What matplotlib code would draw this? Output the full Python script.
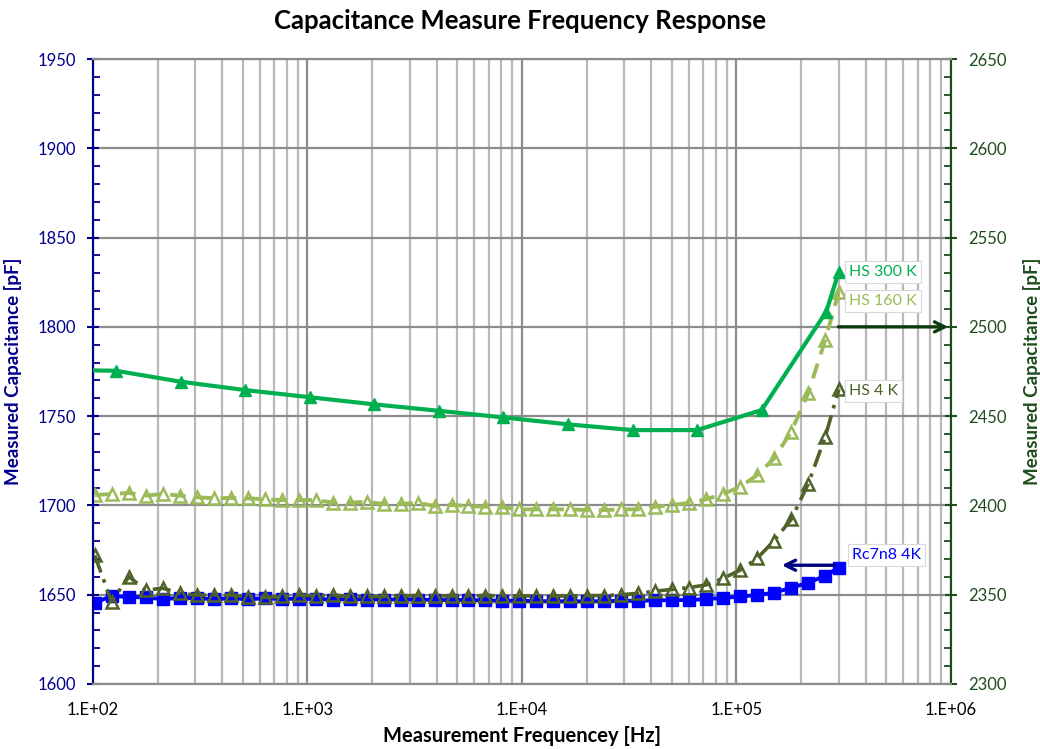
import numpy as np
import matplotlib
matplotlib.use('Agg')
import matplotlib.pyplot as plt
from matplotlib.ticker import FixedLocator, FixedFormatter, MultipleLocator

plt.rcParams['font.family'] = ['Lato', 'DejaVu Sans']

# sweep frequencies [Hz] shared by Rc7n8 4K, HS 160 K and HS 4 K
freq = [102, 122, 147, 176, 212, 254, 305, 366, 439, 526, 632, 758, 910,
        1091, 1310, 1572, 1886, 2263, 2716, 3259, 3911, 4693, 5631, 6758,
        8109, 9731, 11677, 14012, 16815, 20178, 24213, 29056, 34867, 41840,
        50208, 60250, 72300, 86760, 104112, 124934, 149921, 179905, 215886,
        259063, 300000]

# Rc7n8 4K (left axis)
rc7n8_4k = [1645.4, 1649.3, 1648.7, 1648.5, 1647.5, 1648.3, 1648.0, 1647.5,
            1648.0, 1647.5, 1648.0, 1647.6, 1647.8, 1647.5, 1647.3, 1647.5,
            1647.3, 1647.3, 1647.3, 1647.3, 1647.0, 1647.0, 1647.0, 1646.8,
            1646.6, 1646.6, 1646.4, 1646.3, 1646.3, 1646.3, 1646.4, 1646.5,
            1646.6, 1646.8, 1647.0, 1647.0, 1647.6, 1648.2, 1649.0, 1649.8,
            1651.1, 1653.9, 1656.7, 1660.6, 1665.2]

# HS 160 K (right axis)
hs_160k = [2405.8, 2406.4, 2407.0, 2405.5, 2406.4, 2405.5, 2404.6, 2404.0,
           2404.2, 2404.0, 2403.4, 2403.0, 2403.0, 2403.0, 2401.6, 2401.6,
           2402.0, 2400.8, 2400.8, 2401.5, 2399.7, 2400.2, 2399.7, 2399.3,
           2399.0, 2397.8, 2397.8, 2397.8, 2397.8, 2397.4, 2397.4, 2397.8,
           2397.8, 2399.3, 2400.2, 2401.5, 2403.5, 2406.4, 2410.5, 2417.0,
           2426.4, 2441.3, 2462.8, 2492.6, 2519.7]

# HS 4 K (right axis)
hs_4k = [2372.0, 2346.1, 2360.1, 2352.6, 2353.6, 2350.8, 2349.8, 2349.8,
         2349.8, 2348.9, 2348.5, 2349.0, 2349.8, 2349.3, 2349.8, 2349.0,
         2349.0, 2349.0, 2349.3, 2349.5, 2349.5, 2349.3, 2349.3, 2349.5,
         2349.3, 2349.3, 2349.3, 2349.3, 2349.3, 2349.5, 2349.5, 2350.0,
         2350.8, 2352.0, 2353.0, 2354.0, 2355.5, 2359.2, 2363.8, 2370.4,
         2380.3, 2392.2, 2412.0, 2438.3, 2465.0]

# HS 300 K (right axis), coarser sweep
freq_300k = [64, 128, 256, 512, 1024, 2048, 4096, 8192, 16384, 32768, 65536,
             131072, 262144, 300000]
hs_300k = [2476.0, 2475.4, 2469.3, 2464.6, 2460.6, 2456.6, 2453.0, 2449.3,
           2445.4, 2442.2, 2442.2, 2453.4, 2508.5, 2530.9]

x_ticks = [1e2, 1e3, 1e4, 1e5, 1e6]
x_labels = ['1.E+02', '1.E+03', '1.E+04', '1.E+05', '1.E+06']

NAVY = '#00008B'
DKGREEN = '#1E4D1E'
C_BLUE = '#0000FF'
C_300 = '#00B050'
C_160 = '#9BBB59'
C_4 = '#4F6228'

fig = plt.figure(figsize=(10.4, 7.49), dpi=100)
ax = fig.add_axes([0.0894, 0.0868, 0.825, 0.8344])
ax2 = ax.twinx()

# left axis: Rc7n8
ax.plot(freq, rc7n8_4k, color=C_BLUE, lw=2.8, marker='s', ms=8, zorder=3)
ax.set_xscale('log')
ax.set_xlim(1e2, 1e6)
ax.set_ylim(1600, 1950)
ax.yaxis.set_major_locator(MultipleLocator(50))
ax.yaxis.set_minor_locator(MultipleLocator(10))
ax.xaxis.set_major_locator(FixedLocator(x_ticks))
ax.xaxis.set_major_formatter(FixedFormatter(x_labels))
ax.grid(True, which='major', axis='both', color='#8C8C8C', lw=1.6)
ax.grid(True, which='minor', axis='x', color='#B8B8B8', lw=1.6)
ax.set_axisbelow(True)

# right axis: HS series
ax2.plot(freq_300k, hs_300k, color=C_300, lw=3.0, marker='^', ms=8, zorder=3)
ax2.plot(freq, hs_160k, color=C_160, lw=2.8, ls=(0, (4, 2.5)), marker='^',
         ms=9, mfc='none', mew=1.8)
ax2.plot(freq, hs_4k, color=C_4, lw=2.6, ls=(0, (5, 2, 1, 2)), marker='^',
         ms=9, mfc='none', mew=1.8)
ax2.set_ylim(2300, 2650)
ax2.yaxis.set_major_locator(MultipleLocator(50))
ax2.yaxis.set_minor_locator(MultipleLocator(10))

# axis styling
for a in (ax, ax2):
    a.spines['top'].set_color('#8C8C8C')
    a.spines['bottom'].set_color('#8C8C8C')
    a.spines['left'].set_color(NAVY)
    a.spines['right'].set_color(DKGREEN)
    for s in a.spines.values():
        s.set_linewidth(1.5)

ax.tick_params(axis='x', which='both', length=0, labelsize=12, pad=13,
               labelcolor='black')
ax.tick_params(axis='y', which='major', direction='inout', length=9, width=1.5,
               color=NAVY, labelcolor=NAVY, labelsize=12, pad=8)
ax.tick_params(axis='y', which='minor', direction='in', length=5, width=1.3,
               color=NAVY)
ax2.tick_params(axis='y', which='major', direction='inout', length=9, width=1.5,
                color=DKGREEN, labelcolor=DKGREEN, labelsize=12, pad=8)
ax2.tick_params(axis='y', which='minor', direction='in', length=5, width=1.3,
                color=DKGREEN)

ax.set_xlabel('Measurement Frequencey [Hz]', fontsize=14.5, fontweight='bold',
              labelpad=6)
ax.set_ylabel('Measured Capacitance [pF]', fontsize=13.5, fontweight='bold',
              color=NAVY)
ax.yaxis.set_label_coords(-0.083, 0.5)
ax2.set_ylabel('Measured Capacitance [pF]', fontsize=13.5, fontweight='bold',
               color=DKGREEN)
ax2.yaxis.set_label_coords(1.084, 0.5)
fig.suptitle('Capacitance Measure Frequency Response', fontsize=18.5,
             fontweight='bold', y=0.988)

# series labels next to the last points
box = dict(boxstyle='square,pad=0.25', fc='white', ec='#D9D9D9', lw=0.8)
ax2.annotate('HS 300 K', (freq_300k[-1], hs_300k[-1]), xytext=(10, 0),
             textcoords='offset pixels', va='center', ha='left', fontsize=11.5,
             color=C_300, bbox=box)
ax2.annotate('HS 160 K', (freq[-1], hs_160k[-1]), xytext=(10, -9),
             textcoords='offset pixels', va='center', ha='left', fontsize=11.5,
             color=C_160, bbox=box)
ax2.annotate('HS 4 K', (freq[-1], hs_4k[-1]), xytext=(10, -2),
             textcoords='offset pixels', va='center', ha='left', fontsize=11.5,
             color=C_4, bbox=box)
ax.annotate('Rc7n8 4K', (freq[-1], rc7n8_4k[-1]), xytext=(13, 13),
            textcoords='offset pixels', va='center', ha='left', fontsize=11.5,
            color=C_BLUE, bbox=box)

# arrows pointing each group to its axis
ax2.annotate('', xy=(1e6, 2500), xytext=(2.9e5, 2500),
             arrowprops=dict(arrowstyle='->', color='#0E3B0E', lw=2.4,
                             mutation_scale=18), annotation_clip=False)
ax.annotate('', xy=(1.58e5, 1666.5), xytext=(2.95e5, 1666.5),
            arrowprops=dict(arrowstyle='->', color='#000080', lw=2.4,
                            mutation_scale=18))

plt.savefig('out.png', dpi=100)
